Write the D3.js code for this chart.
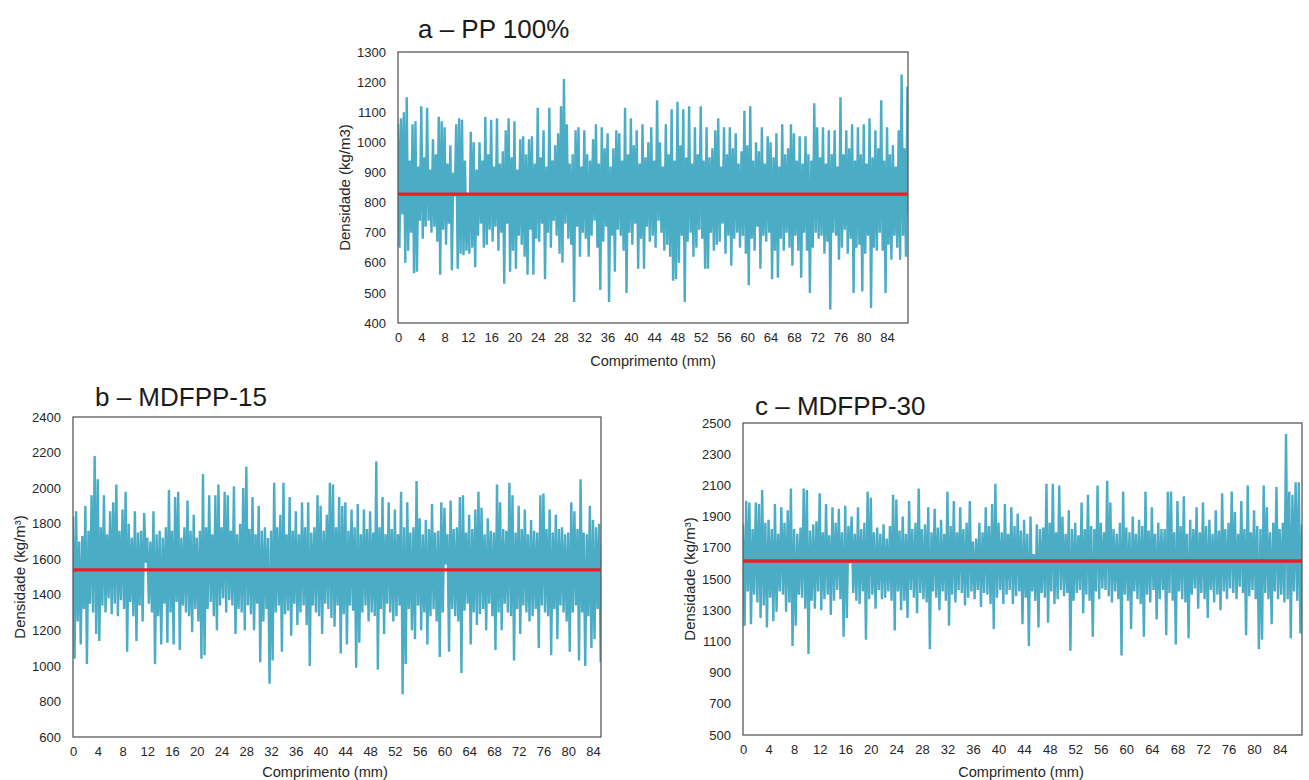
<!DOCTYPE html>
<html><head><meta charset="utf-8">
<script src="https://cdn.jsdelivr.net/npm/d3@7"></script>
<style>
html,body{margin:0;padding:0;background:#fff;}
svg{display:block;font-family:"Liberation Sans",Arial,sans-serif;}
</style></head><body>
<svg id="chart" width="1309" height="780"></svg>
<script>
// sampling step along the length (mm)
const stepMM = 0.25;

// ---- Panel a: PP 100% (values in kg/m3, 4 samples per mm)
const ppValues = [
1060,650,1080,760, 1100,600,1150,640, 940,700,1060,565, 1070,570,920,740,
1120,680,950,720, 1115,740,910,700, 1010,720,960,670, 1085,560,1070,710,
1050,660,930,730, 990,575,900,820, 1060,580,1080,630, 1075,625,940,640,
830,630,1035,650, 1000,585,910,690, 1000,730,940,650, 1085,660,960,710,
1075,670,920,720, 1080,640,930,700, 970,530,1040,730, 1080,570,950,640,
1070,580,910,690, 1010,660,1020,620, 960,560,1010,710, 1020,560,930,680,
1115,670,950,730, 1040,545,920,700, 1115,650,940,740, 990,690,1030,630,
1120,600,1210,730, 1060,680,930,660, 960,470,1040,720, 1050,620,920,700,
1040,680,960,620, 940,690,1010,740, 1060,650,930,510, 1050,670,980,720,
1030,470,920,690, 980,570,1040,710, 1030,690,940,640, 1115,500,960,700,
1080,660,990,730, 1040,580,930,680, 1060,580,950,720, 1000,670,1050,690,
940,650,1140,740, 1000,700,920,640, 1060,660,960,620, 1110,540,940,545,
1135,600,990,690, 1110,470,950,670, 1120,700,930,620, 1050,650,960,710,
1120,680,940,580, 1050,580,950,700, 980,640,1040,660, 1080,670,920,730,
1050,630,960,690, 1050,590,980,680, 1030,700,930,650, 970,690,1105,630,
990,525,1120,680, 940,640,1000,720, 970,580,1050,690, 930,670,1020,700,
1000,545,950,640, 1030,550,920,680, 1060,640,960,700, 980,650,1060,590,
1030,690,940,640, 1020,550,930,700, 1020,640,960,500, 940,650,1130,700,
1050,680,950,690, 1050,630,930,670, 1040,445,960,700, 1040,690,920,610,
1150,650,960,710, 1040,630,980,680, 1060,500,940,650, 1050,660,960,505,
1060,630,930,690, 1080,450,950,650, 1040,640,980,700, 1140,640,940,500,
1050,660,960,610, 990,690,920,650, 1040,610,1225,690, 980,620,1185,760
];
const ppMean = 828;

// ---- Panel b: MDFPP-15
const mdf15Values = [
1840,1040,1870,1250, 1700,1120,1730,1320, 1900,1010,1760,1350, 1960,1300,2180,1180,
2050,1140,1780,1340, 1960,1300,1740,1380, 1870,1290,1920,1350, 2020,1280,1760,1370,
1880,1320,1980,1080, 1800,1360,1720,1280, 1870,1140,1750,1340, 1760,1250,1860,1580,
1720,1350,1700,1300, 1870,1010,1740,1280, 1760,1120,1720,1350, 1780,1130,1990,1300,
1760,1120,1950,1360, 1980,1090,1720,1340, 1780,1300,1930,1280, 1760,1190,1850,1320,
1720,1250,1760,1040, 2080,1060,1780,1320, 1960,1360,1740,1280, 1960,1200,2020,1340,
1780,1380,1980,1300, 1960,1370,1760,1340, 2010,1180,1740,1320, 1800,1300,2000,1200,
2120,1340,1770,1290, 1950,1200,1740,1350, 1900,1020,1760,1250, 1780,1320,1720,900,
1760,1030,2030,1300, 1780,1340,1850,1080, 2030,1290,1740,1310, 1950,1170,1760,1350,
1870,1230,1740,1300, 1920,1340,1780,1230, 1920,1000,1750,1340, 1780,1300,1960,1280,
1900,1180,1760,1350, 1850,1320,2030,1270, 2020,1220,1780,1340, 1950,1070,1900,1290,
1920,1120,1760,1340, 1880,1310,1780,990, 1910,1130,1740,1300, 1880,1340,1770,1250,
1870,1300,1750,1280, 2150,980,1780,1320, 1950,1180,1740,1350, 1920,1300,1770,1250,
1880,1280,1740,1340, 1980,840,1780,1010, 1920,1320,1750,1200, 1780,1150,2040,1340,
1830,1200,1740,1300, 1820,1120,1770,1280, 1910,1320,1750,1250, 1760,1050,1920,1300,
1890,1570,1740,1080, 1930,1320,1770,1280, 1780,1250,1950,960, 1960,1310,1750,1350,
1850,1120,1770,1300, 1880,1230,1980,1290, 1890,1320,1740,1200, 1830,1350,1760,1280,
1750,1090,2020,1300, 1920,1200,1770,1350, 1760,1300,2030,1280, 1960,1030,1750,1320,
1900,1180,1770,1340, 1880,1300,1740,1250, 1820,1280,1760,1320, 1750,1100,1960,1340,
1970,1300,1770,1280, 1880,1060,1750,1320, 1850,1150,1770,1340, 1780,1300,1740,1250,
1750,1080,1920,1300, 1870,1340,1770,1030, 2050,1300,1750,1000, 1740,1280,1900,1100,
1820,1150,1780,1320, 1800,1020,1780,1040
];
const mdf15Mean = 1540;

// ---- Panel c: MDFPP-30
const mdf30Values = [
1850,1200,2000,1420, 1990,1210,1820,1400, 1990,1350,1980,1250, 2070,1330,1860,1190,
1880,1380,1820,1230, 1980,1290,1790,1420, 1960,1400,1860,1290, 1940,1350,2080,1070,
1820,1200,1790,1400, 1830,1380,2080,1310, 2070,1020,1810,1360, 1850,1310,1870,1420,
2050,1300,1800,1370, 1980,1400,1780,1270, 1960,1360,1860,1430, 1950,1370,1800,1130,
1970,1250,1840,1600, 1900,1410,1790,1360, 1960,1340,1820,1420, 1860,1110,2060,1370,
2020,1400,1800,1310, 1830,1430,1790,1370, 1850,1380,1760,1420, 1840,1360,2040,1170,
2010,1420,1810,1300, 1900,1360,1790,1250, 2000,1430,1820,1380, 1860,1280,2080,1410,
1820,1370,1850,1350, 1960,1050,1800,1420, 1950,1380,1830,1300, 1880,1420,1790,1360,
2060,1200,1840,1400, 2000,1350,1800,1430, 1960,1410,1820,1330, 1860,1380,2000,1420,
1740,1370,1760,1430, 1860,1320,1800,1410, 1960,1400,1840,1340, 1980,1180,2110,1380,
1860,1430,1800,1340, 1980,1400,1790,1430, 1960,1340,1840,1390, 1920,1420,1810,1210,
1880,1380,1790,1070, 1900,1420,1660,1360, 1850,1190,1820,1410, 1830,1380,2110,1220,
1860,1420,2110,1340, 1800,1370,2100,1430, 1900,1390,1790,1410, 1940,1040,1820,1360,
1860,1410,1780,1430, 1990,1280,1820,1400, 2040,1360,1840,1130, 1820,1420,2100,1370,
1860,1440,1800,1430, 2130,1390,1990,1350, 1820,1420,1790,1370, 1860,1010,2060,1400,
1830,1360,1800,1180, 1900,1420,1790,1370, 1880,1340,1840,1130, 2060,1400,1810,1350,
1960,1430,1790,1240, 1860,1370,1820,1430, 1820,1140,2060,1410, 2060,1360,1800,1080,
2000,1420,1840,1370, 2030,1350,1790,1120, 1880,1400,1820,1440, 1960,1310,1800,1410,
1990,1370,1840,1250, 1880,1430,1790,1350, 1940,1400,1810,1300, 2050,1420,1820,1370,
1860,1440,2060,1410, 1930,1370,1790,1450, 2000,1410,1820,1140, 2100,1390,1800,1430,
1940,1370,1840,1050, 1820,1110,2100,1410, 1960,1370,1800,1210, 1860,1420,2090,1370,
1820,1400,1860,1350, 2430,1370,2060,1120, 2040,1420,2120,1360, 2120,1150,1850,1420
];
const mdf30Mean = 1615;

// ---- axis ticks
const xTickValues = [0,4,8,12,16,20,24,28,32,36,40,44,48,52,56,60,64,68,72,76,80,84];
const yTicksA = [400,500,600,700,800,900,1000,1100,1200,1300];
const yTicksB = [600,800,1000,1200,1400,1600,1800,2000,2200,2400];
const yTicksC = [500,700,900,1100,1300,1500,1700,1900,2100,2300,2500];

const titles = ["a \u2013 PP 100%", "b \u2013 MDFPP-15", "c \u2013 MDFPP-30"];
const yTitles = ["Densidade (kg/m3)", "Densidade (kg/m\u00B3)", "Densidade (kg/m\u00B3)"];
const xTitle = "Comprimento (mm)";

const panels = [
  {id:"a", values:ppValues, mean:ppMean, yTicks:yTicksA, yDom:[400,1300], xMax:87.6,
   left:398, right:908, top:52, bottom:323, title:titles[0], yTitle:yTitles[0],
   titleX:418, titleY:38, yTitleX:344, xTitleX:653, xTitleY:366},
  {id:"b", values:mdf15Values, mean:mdf15Mean, yTicks:yTicksB, yDom:[600,2400], xMax:85.3,
   left:73, right:601, top:417, bottom:737, title:titles[1], yTitle:yTitles[1],
   titleX:95, titleY:406, yTitleX:19, xTitleX:325, xTitleY:777},
  {id:"c", values:mdf30Values, mean:mdf30Mean, yTicks:yTicksC, yDom:[500,2500], xMax:87.5,
   left:743, right:1302, top:423, bottom:735, title:titles[2], yTitle:yTitles[2],
   titleX:755, titleY:415, yTitleX:689, xTitleX:1021, xTitleY:777}
];

const svg = d3.select("#chart");
const defs = svg.append("defs");
const seriesColor = "#4bacc6";
const meanColor = "#ee1c24";
const frameColor = "#595959";
const textColor = "#262626";

panels.forEach(p => {
  const x = d3.scaleLinear().domain([0, p.xMax]).range([p.left, p.right]);
  const y = d3.scaleLinear().domain(p.yDom).range([p.bottom, p.top]);
  const g = svg.append("g");

  defs.append("clipPath").attr("id", "clip-" + p.id)
    .append("rect").attr("x", p.left).attr("y", p.top)
    .attr("width", p.right - p.left).attr("height", p.bottom - p.top);

  const line = d3.line().x((d, i) => x(i * stepMM)).y(d => y(d));
  g.append("path").datum(p.values)
    .attr("clip-path", "url(#clip-" + p.id + ")")
    .attr("fill", "none").attr("stroke", seriesColor)
    .attr("stroke-width", 2.4).attr("stroke-linejoin", "bevel")
    .attr("d", line);

  g.append("line")
    .attr("x1", x(0)).attr("x2", x(p.xMax))
    .attr("y1", y(p.mean)).attr("y2", y(p.mean))
    .attr("stroke", meanColor).attr("stroke-width", 3.4);

  // frame
  g.append("rect").attr("x", p.left).attr("y", p.top)
    .attr("width", p.right - p.left).attr("height", p.bottom - p.top)
    .attr("fill", "none").attr("stroke", frameColor).attr("stroke-width", 1.3);

  const yAxis = g.append("g").attr("transform", `translate(${p.left},0)`)
    .call(d3.axisLeft(y).tickValues(p.yTicks).tickSize(0).tickPadding(12).tickFormat(d3.format("d")));
  yAxis.select(".domain").remove();
  yAxis.selectAll("text").attr("font-size", 13).attr("fill", textColor)
    .attr("font-family", "'Liberation Sans', Arial, sans-serif");

  const xAxis = g.append("g").attr("transform", `translate(0,${p.bottom})`)
    .call(d3.axisBottom(x).tickValues(xTickValues).tickSize(0).tickPadding(10).tickFormat(d3.format("d")));
  xAxis.select(".domain").remove();
  xAxis.selectAll("text").attr("font-size", 13).attr("fill", textColor)
    .attr("font-family", "'Liberation Sans', Arial, sans-serif");

  g.append("text").attr("x", p.titleX).attr("y", p.titleY)
    .attr("font-size", 26).attr("fill", "#1a1a1a").text(p.title);

  g.append("text")
    .attr("transform", `translate(${p.yTitleX},${(p.top + p.bottom) / 2}) rotate(-90)`)
    .attr("text-anchor", "middle").attr("dominant-baseline", "central")
    .attr("font-size", 15).attr("fill", textColor).text(p.yTitle);

  g.append("text").attr("x", p.xTitleX).attr("y", p.xTitleY)
    .attr("text-anchor", "middle").attr("font-size", 14.6).attr("fill", textColor)
    .text(xTitle);
});
</script>
</body></html>
